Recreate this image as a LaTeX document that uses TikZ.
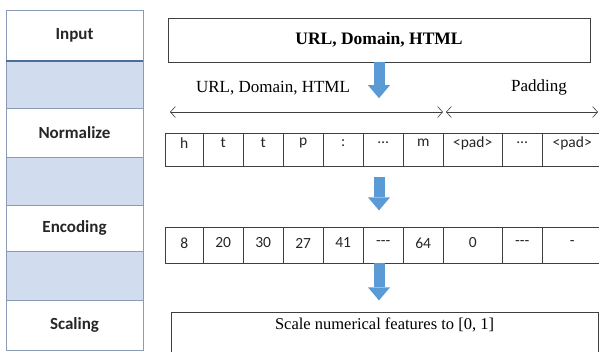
\documentclass[tikz,border=0pt]{standalone}
\usepackage{fontspec}
\setmainfont{Liberation Serif}
\newfontfamily\cellfont{Carlito}
\usetikzlibrary{calc, positioning}
\usetikzlibrary{arrows.meta}

\definecolor{stageblue}{HTML}{D1DCEE}
\definecolor{stageline}{HTML}{8A9BB5}
\definecolor{stagedark}{HTML}{4C6C9C}
\definecolor{flowblue}{HTML}{5B9BD5}
\definecolor{rulegrey}{HTML}{3F3F3F}

\tikzset{
  stage/.style={draw=stageline, minimum width=137pt, inner sep=0pt,
    font=\cellfont\bfseries\fontsize{17}{19}\selectfont, text=black!85},
  cell/.style={draw=rulegrey, inner sep=0pt},
  celltext/.style={font=\cellfont\fontsize{15.5}{17}\selectfont, text=black!85},
  box/.style={draw=rulegrey, inner sep=0pt},
  flowarrow/.style={flowblue, line width=11pt,
    -{Triangle[length=13pt,width=22pt,line width=0pt]}},
  span/.style={rulegrey, line width=0.6pt,
    {Straight Barb[length=5pt,width=11pt]}-{Straight Barb[length=5pt,width=11pt]}},
}

\begin{document}
\begin{tikzpicture}[x=1pt,y=-1pt]
\useasboundingbox (0,0) rectangle (599,352);

% stage column
\foreach \top/\bot/\fillc/\name/\txt in {10/61/white/s1/Input, 61/108/stageblue/s2/,
    108/157/white/s3/Normalize, 157/205/stageblue/s4/, 205/251/white/s5/Encoding,
    251/300/stageblue/s6/, 300/350/white/s7/Scaling} {
  \node[stage, fill=\fillc, minimum height={\bot-\top}, anchor=north]
    (\name) at (74.5,\top) {\txt};
}
\draw[stagedark, line width=2pt] (s1.south west) -- (s1.south east);

% input
\node[box, minimum width=422pt, minimum height=44pt,
  font=\bfseries\fontsize{17.5}{20}\selectfont] (title) at (379,40) {URL, Domain, HTML};

\node[font=\fontsize{17}{20}\selectfont] (urltxt) at (273,88) {URL, Domain, HTML};
\node[font=\fontsize{17}{20}\selectfont] (padtxt) at (539,87) {Padding};
\coordinate (urlL) at (170,112);
\coordinate (urlR) at (443,112);
\coordinate (padL) at (446,112);
\coordinate (padR) at (598,112);
\draw[span] (urlL) -- (urlR);
\draw[span] (padL) -- (padR);

% characters and codes
\foreach \i/\x/\w/\c/\n in {1/165/38/h/8, 2/203/40/t/20, 3/243/40/t/30, 4/283/40/p/27,
    5/323/40/:/41, 6/363/40/…/-{}-{}-, 7/403/40/m/64, 8/443/59/<pad>/0,
    9/502/40/…/-{}-{}-, 10/542/60/<pad>/-} {
  \node[cell, minimum width=\w, minimum height=33, anchor=north west] (a\i) at (\x,133) {};
  \node[celltext] at ($(a\i.north)+(0,10)$) {\c};
  \node[cell, minimum width=\w, minimum height=36, anchor=north west] (b\i) at (\x,227) {};
  \node[celltext] at ($(b\i.north)+(0,16)$) {\n};
}

% scaling
\node[box, minimum width=427pt, minimum height=50pt, anchor=north] (scalebox) at (384.5,312) {};
\node[font=\fontsize{16.5}{19}\selectfont] at ($(scalebox.north)+(0,13)$)
  {Scale numerical features to [0, 1]};

\draw[flowarrow] (title.south) -- ++(0,36);
\draw[flowarrow] ($(title.south |- a1.south)+(0,11)$) -- ++(0,33);
\draw[flowarrow] (title.south |- b1.south) -- ++(0,37);
\end{tikzpicture}
\end{document}
